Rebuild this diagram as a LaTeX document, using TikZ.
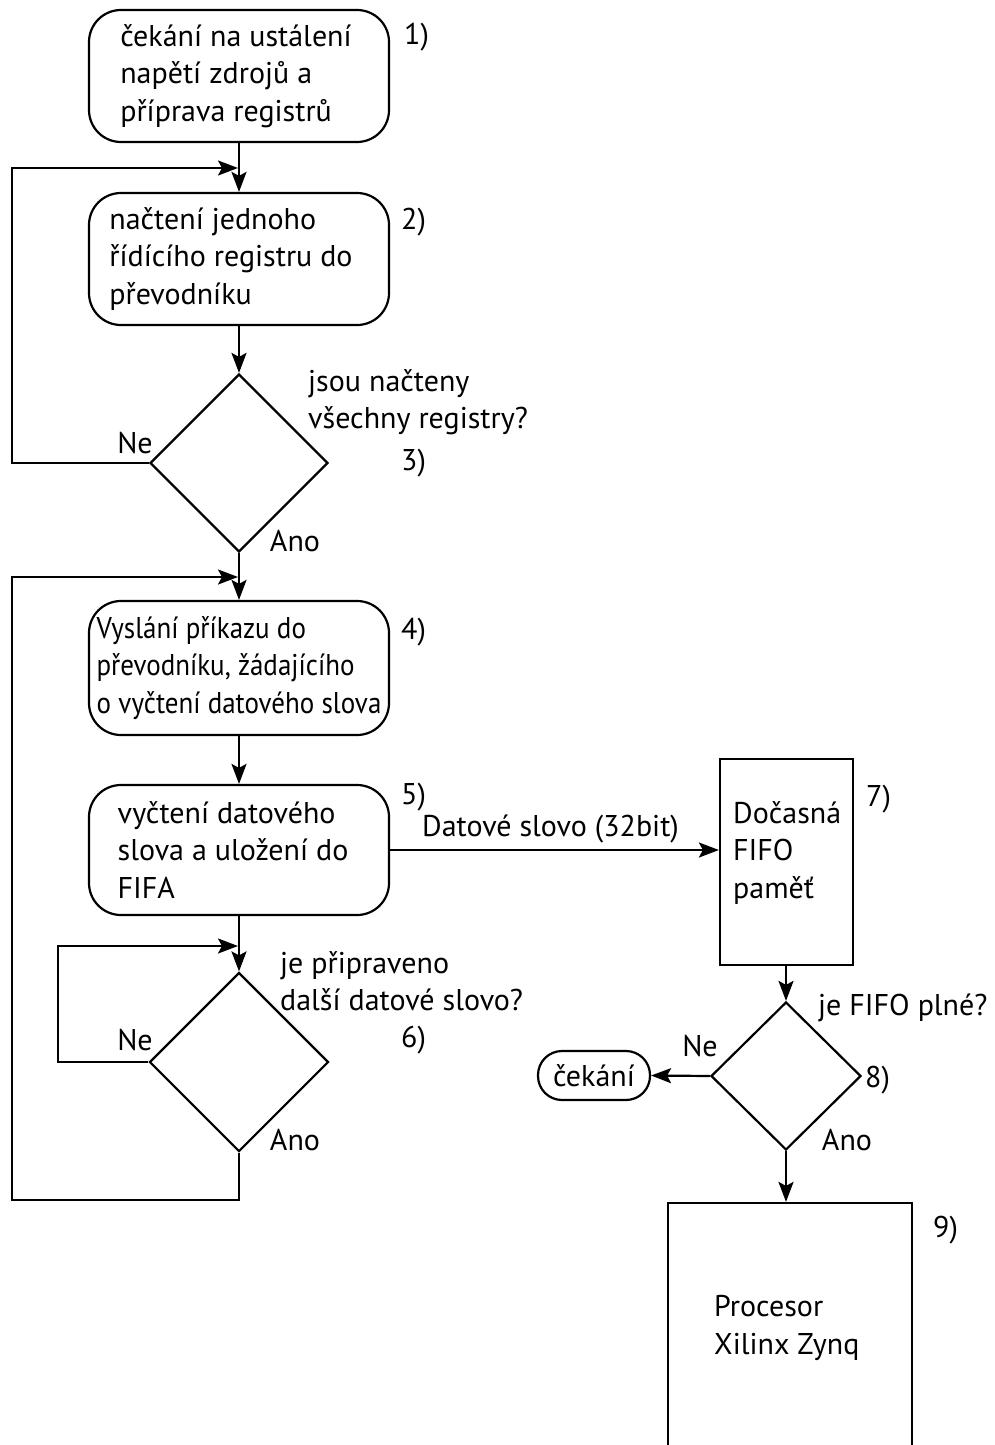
\documentclass[tikz,border=0pt]{standalone}
\usepackage{fontspec}
\setmainfont{PT Sans}
\newfontfamily\narrowfont{PT Sans}[FakeStretch=0.9]
\usetikzlibrary{arrows.meta,shapes.geometric}
\newcommand{\padr}[1]{\rule{#1}{0pt}}
\begin{document}
\begin{tikzpicture}[x=1pt,y=-1pt,
  every node/.style={font=\fontsize{30}{37.5}\selectfont, inner sep=0pt},
  proc/.style={draw, line width=2.2pt, rounded corners=32pt, minimum width=300pt, align=left},
  blk/.style={draw, line width=2.2pt, rectangle},
  dec/.style={draw, line width=2.2pt, diamond, aspect=1},
  pill/.style={draw, line width=2.2pt, rounded corners=24pt, minimum width=112pt, minimum height=49pt},
  lbl/.style={anchor=west, align=left},
  arr/.style={line width=2.2pt, -{Stealth[length=20pt,width=15pt,inset=4pt]}},
]
\useasboundingbox (0,0) rectangle (995,1445);
\clip (0,0) rectangle (995,1445);
\fill[white] (0,0) rectangle (995,1445);

% process boxes
\node[proc, minimum height=132pt] (b1) at (239,76) {čekání na ustálení\padr{6pt}\\napětí zdrojů a\\příprava registrů};
\node[proc, minimum height=132pt] (b2) at (239,259) {načtení jednoho\\řídícího registru do\padr{16pt}\\převodníku};
\node[dec, minimum width=178pt, minimum height=178pt] (d3) at (239,463) {};
\node[proc, minimum height=134pt, font=\narrowfont\fontsize{30}{37.5}\selectfont] (b4) at (239,668) {Vyslání příkazu do\\převodníku, žádajícího\\o vyčtení datového slova};
\node[proc, minimum height=130pt] (b5) at (239,850) {vyčtení datového\\slova a uložení do\padr{12pt}\\FIFA};
\node[dec, minimum width=179pt, minimum height=179pt] (d6) at (239,1062) {};
\node[blk, minimum width=133pt, minimum height=206pt] (b7) at (786.5,862) {};
\node[lbl] (t7) at (733,853) {Dočasná\\FIFO\\paměť};
\node[dec, minimum width=150pt, minimum height=148pt] (d8) at (786,1076) {};
\node[pill] (w) at (594,1075.5) {čekání};
\node[blk, minimum width=244pt, minimum height=260pt] (b9) at (790,1333) {};
\node[lbl] (t9) at (714,1328) {Procesor\\Xilinx Zynq};

% step numbers
\node[lbl] (n1) at (404,37) {1)};
\node[lbl] (n2) at (401,222) {2)};
\node[lbl] (n3) at (401,463) {3)};
\node[lbl] (n4) at (401,632) {4)};
\node[lbl] (n5) at (401,797) {5)};
\node[lbl] (n6) at (401,1040) {6)};
\node[lbl] (n7) at (866,799) {7)};
\node[lbl] (n8) at (865,1080) {8)};
\node[lbl] (n9) at (933,1230) {9)};

% questions
\node[lbl] (q3) at (308,402) {jsou načteny\\všechny registry?};
\node[lbl] (q6) at (280,981) {je připraveno\\další datové slovo?};
\node[lbl] (q8) at (818,1008) {je FIFO plné?};

% branch labels
\node (ne3) at (135,443) {Ne};
\node (ano3) at (295,541) {Ano};
\node (ne6) at (135,1040) {Ne};
\node (ano6) at (295,1140) {Ano};
\node (ne8) at (700,1046) {Ne};
\node (ano8) at (847,1140) {Ano};

% coordinates for loops
\coordinate (j1) at (238,168);
\coordinate (l1) at (12,168);
\coordinate (j2) at (238,577);
\coordinate (l2) at (12,1200);
\coordinate (j3) at (238,946);
\coordinate (l3) at (58,946);

% connectors
\draw[arr] (b1.south) -- (b2.north);
\draw[arr] (b2.south) -- (d3.north);
\draw[arr] (d3.south) -- (b4.north);
\draw[arr] (b4.south) -- (b5.north);
\draw[arr] (b5.south) -- (d6.north);
\draw[arr] (b5.east) -- node[midway, above=6pt, xshift=-4pt] (dl) {Datové slovo (32bit)} (b5.east -| b7.west);
\draw[arr] (b7.south -| d8.north) -- (d8.north);
\draw[arr] (d8.west) -- (w.east);
\draw[arr] (d8.south) -- (d8.south |- b9.north);

\draw[arr] (d3.west) -| (l1) -- (j1);
\draw[arr] (d6.south) |- (l2) |- (j2);
\draw[arr] (d6.west) -| (l3) -- (j3);
\end{tikzpicture}
\end{document}
